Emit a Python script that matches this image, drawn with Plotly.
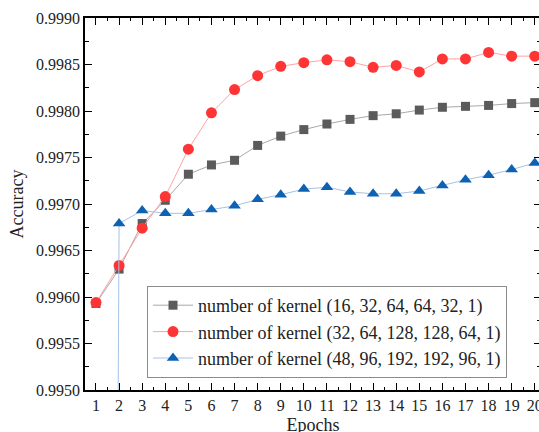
import plotly.graph_objects as go

epochs = list(range(1, 21))
acc_16 = [0.99593, 0.99630, 0.99679, 0.99704, 0.99732, 0.99742, 0.99747, 0.99763, 0.99773, 0.99780,
          0.99786, 0.99791, 0.99795, 0.99797, 0.99801, 0.99804, 0.99805, 0.99806, 0.99808, 0.99809]
acc_32 = [0.99594, 0.99634, 0.99674, 0.99708, 0.99759, 0.99798, 0.99823, 0.99838, 0.99848, 0.99852,
          0.99855, 0.99853, 0.99847, 0.99849, 0.99842, 0.99856, 0.99856, 0.99863, 0.99859, 0.99859]
acc_48 = [0.95000, 0.99679, 0.99693, 0.99690, 0.99690, 0.99694, 0.99698, 0.99705, 0.99710, 0.99716,
          0.99718, 0.99713, 0.99711, 0.99711, 0.99714, 0.99720, 0.99726, 0.99731, 0.99737, 0.99744]
names = ["number of kernel (16, 32, 64, 64, 32, 1)",
         "number of kernel (32, 64, 128, 128, 64, 1)",
         "number of kernel (48, 96, 192, 192, 96, 1)"]

FONT = "Liberation Serif, Times New Roman, serif"

fig = go.Figure()
fig.add_trace(go.Scatter(x=epochs, y=acc_16, name=names[0], mode="lines+markers",
                         line=dict(color="#a9a9a9", width=1),
                         marker=dict(symbol="square", size=9, color="#5b5b5b")))
fig.add_trace(go.Scatter(x=epochs, y=acc_32, name=names[1], mode="lines+markers",
                         line=dict(color="#ffa3a3", width=1),
                         marker=dict(symbol="circle", size=11, color="#ff3535")))
fig.add_trace(go.Scatter(x=epochs, y=acc_48, name=names[2], mode="lines+markers",
                         line=dict(color="#a6c2e6", width=1),
                         marker=dict(symbol="triangle-up", size=11, color="#0d62b3")))

axis_common = dict(showline=True, linecolor="black", linewidth=1.5, mirror="allticks",
                   ticks="inside", tickcolor="black", tickwidth=1.3, ticklen=7,
                   showgrid=False, zeroline=False, automargin=False,
                   tickfont=dict(family=FONT, size=16, color="#222"))

fig.update_xaxes(range=[0.524, 20.27], tickvals=epochs, ticktext=[str(e) for e in epochs],
                 minor=dict(ticks="inside", ticklen=3, tickcolor="black", dtick=0.5, tick0=0.5, showgrid=False),
                 title=dict(text="Epochs", font=dict(family=FONT, size=18, color="#222"), standoff=5),
                 **axis_common)
fig.update_yaxes(range=[0.9950, 0.9990], dtick=0.0005, tick0=0.9950, tickformat=".4f",
                 minor=dict(ticks="inside", ticklen=4, tickcolor="black", dtick=0.00025, showgrid=False),
                 title=dict(text="Accuracy", font=dict(family=FONT, size=18, color="#222"), standoff=8),
                 **axis_common)

fig.update_layout(
    width=545, height=442,
    margin=dict(l=85, r=4, t=18, b=52),
    plot_bgcolor="white", paper_bgcolor="white",
    font=dict(family=FONT, size=16, color="#222"),
    showlegend=True,
    legend=dict(x=(147 - 85) / 456, y=(390 - 378) / 372, xanchor="left", yanchor="bottom",
                bgcolor="white", bordercolor="#8c8c8c", borderwidth=1,
                font=dict(family=FONT, size=18, color="#222"),
                tracegroupgap=0, itemwidth=40),
)

fig.write_html("out.html", config={"displayModeBar": False},
               post_script="document.body.style.margin='0';document.body.style.overflow='hidden';")
